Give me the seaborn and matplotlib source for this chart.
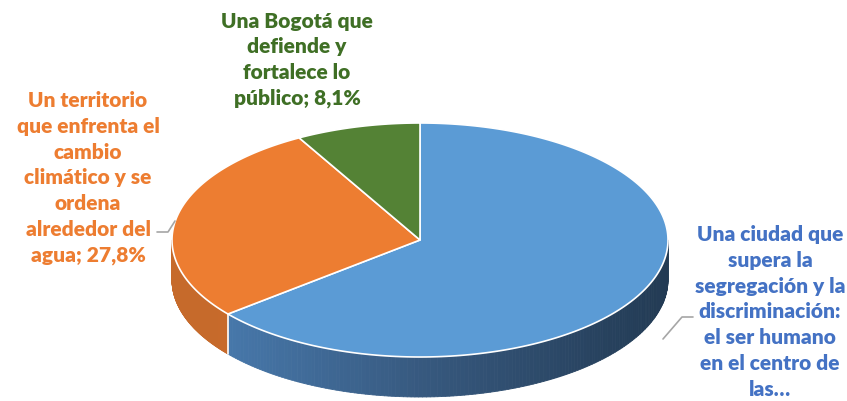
import numpy as np
import seaborn as sns
import matplotlib.pyplot as plt
from matplotlib.patches import Polygon
from matplotlib.collections import PolyCollection

sns.set_theme(style="white")
plt.rcParams['font.family'] = ['Lato', 'DejaVu Sans']

# data
labels = ["Una ciudad que\nsupera la\nsegregación y la\ndiscriminación:\nel ser humano\nen el centro de\nlas…",
          "Un territorio\nque enfrenta el\ncambio\nclimático y se\nordena\nalrededor del\nagua; 27,8%",
          "Una Bogotá que\ndefiende y\nfortalece lo\npúblico; 8,1%"]
values = [64.1, 27.8, 8.1]

top_colors = ["#5b9bd5", "#ed7d31", "#548235"]
text_colors = ["#4472c4", "#ed7d31", "#3f6f25"]
side_palettes = [sns.blend_palette(["#4b80b6", "#37597f", "#223a53"], 200),
                 sns.blend_palette(["#c66a2b", "#cc6d2c"], 200)]

# geometry (pixel space)
cx, cy, rx, ry, depth = 420, 241, 248, 117, 40


def pt(theta, dy=0):
    # theta in degrees, clockwise from 12 o'clock
    t = np.radians(theta)
    return cx + rx * np.sin(t), cy - ry * np.cos(t) + dy


fig = plt.figure(figsize=(8.47, 4.02), dpi=100)
ax = fig.add_axes([0, 0, 1, 1])
ax.set_xlim(0, 847)
ax.set_ylim(402, 0)
ax.axis("off")

bounds = np.concatenate([[0], np.cumsum(values) / sum(values) * 360])

# side walls (visible between 90 and 270 degrees)
for i in range(len(values)):
    a0, a1 = max(bounds[i], 90), min(bounds[i + 1], 270)
    if a1 <= a0 or i >= len(side_palettes):
        continue
    th = np.linspace(a0, a1, 160)
    quads, cols = [], []
    pal = side_palettes[i]
    for t0, t1 in zip(th[:-1], th[1:]):
        p0, p1 = pt(t0), pt(t1)
        quads.append([p0, p1, (p1[0], p1[1] + depth), (p0[0], p0[1] + depth)])
        xm = (p0[0] + p1[0]) / 2
        k = int(np.clip((xm - (cx - rx)) / (2 * rx) * (len(pal) - 1), 0, len(pal) - 1))
        cols.append(pal[k])
    ax.add_collection(PolyCollection(quads, facecolors=cols, edgecolors=cols, linewidths=0.6))

# white seam at blue/orange boundary on the side
bx, by = pt(bounds[1])
ax.plot([bx, bx], [by, by + depth], color="white", lw=1.2)

# top faces
for i in range(len(values)):
    th = np.linspace(bounds[i], bounds[i + 1], 200)
    verts = [(cx, cy)] + [pt(t) for t in th]
    ax.add_patch(Polygon(verts, closed=True, facecolor=top_colors[i],
                         edgecolor="white", lw=1.2, joinstyle="round"))

# leader lines
ax.plot([663, 682, 693], [340, 318, 318], color="#a6a6a6", lw=1.2)
ax.plot([157, 168, 175], [233, 233, 222], color="#a6a6a6", lw=1.2)

# labels
fs, ls = 15, 1.42
ax.text(770, 312, labels[0], color=text_colors[0], fontsize=fs, fontweight="heavy",
        ha="center", va="center", linespacing=ls)
ax.text(88, 178, labels[1], color=text_colors[1], fontsize=fs, fontweight="heavy",
        ha="center", va="center", linespacing=ls)
ax.text(297, 60, labels[2], color=text_colors[2], fontsize=fs, fontweight="heavy",
        ha="center", va="center", linespacing=ls)

fig.savefig("out.png", dpi=100)
